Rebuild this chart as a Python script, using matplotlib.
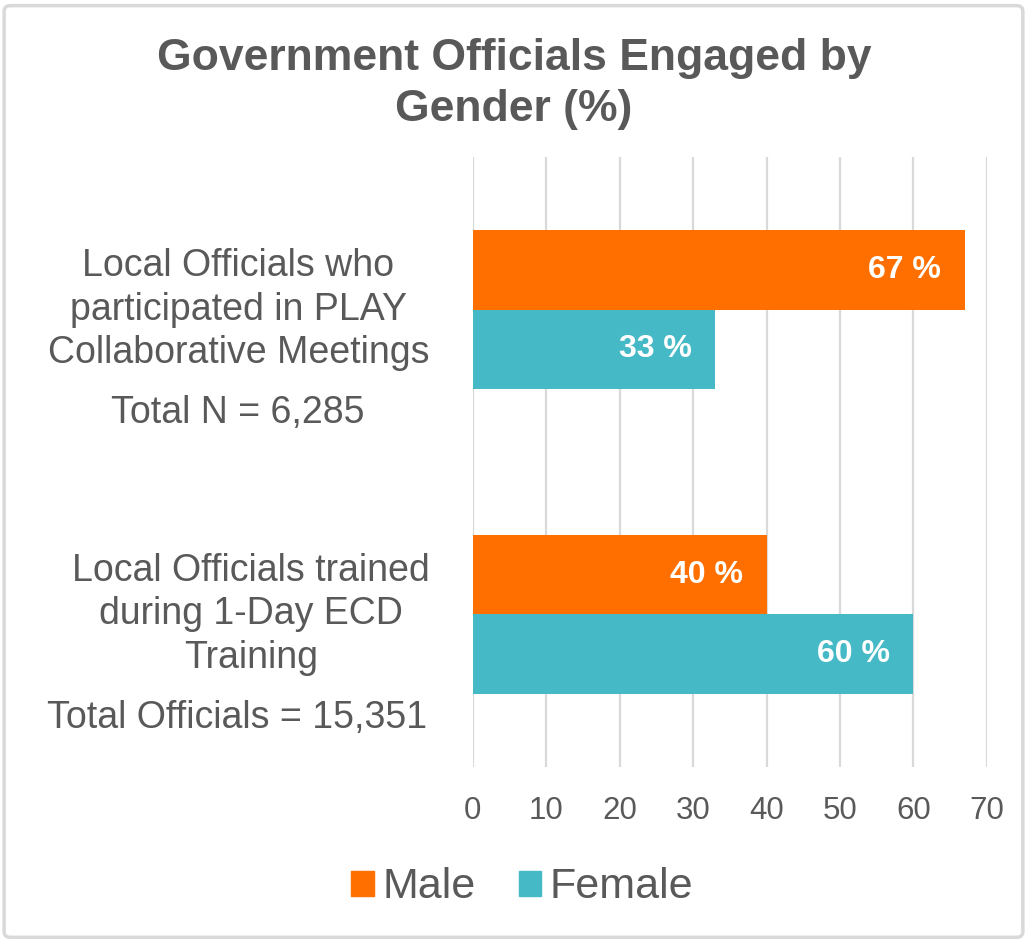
import numpy as np
import matplotlib
matplotlib.use("Agg")
import matplotlib.pyplot as plt
from matplotlib.patches import Patch, FancyBboxPatch
from matplotlib.transforms import blended_transform_factory

plt.rcParams['font.family'] = ['Liberation Sans', 'DejaVu Sans']

# data
categories = ["Local Officials who\nparticipated in PLAY\nCollaborative Meetings",
              "Local Officials trained\nduring 1-Day ECD\nTraining"]
totals = ["Total N = 6,285", "Total Officials = 15,351"]
male = [67, 40]
female = [33, 60]
series_names = ["Male", "Female"]
title = "Government Officials Engaged by\nGender (%)"

ORANGE = "#FF6F00"
TEAL = "#45B9C5"
GREY = "#595959"

fig = plt.figure(figsize=(10.28, 9.42), dpi=100)
ax = fig.add_axes([0.460, 0.1858, 0.500, 0.6475])

y = np.arange(len(categories))
h = 0.262
bars_m = ax.barh(y - h / 2, male, height=h, color=ORANGE, zorder=3)
bars_f = ax.barh(y + h / 2, female, height=h, color=TEAL, zorder=3)

for bars, vals in [(bars_m, male), (bars_f, female)]:
    for b, v in zip(bars, vals):
        ax.annotate(f"{v} %", xy=(b.get_width(), b.get_y() + b.get_height() / 2),
                    xytext=(-17, 0), textcoords="offset points",
                    ha="right", va="center", color="white",
                    fontsize=23, fontweight="bold", zorder=4)

ax.set_xlim(0, 70)
ax.set_ylim(1.5, -0.5)
ax.set_xticks(np.arange(0, 71, 10))
ax.set_yticks([])
ax.xaxis.grid(True, color="#D9D9D9", linewidth=1.6, zorder=0)
ax.tick_params(axis="x", length=0, pad=21, labelsize=22.5, labelcolor=GREY)
for s in ax.spines.values():
    s.set_visible(False)

# category labels (centered on each group) and totals below
tr = blended_transform_factory(fig.transFigure, ax.transData)
label_x = [0.232, 0.244]
for i, (lab, tot) in enumerate(zip(categories, totals)):
    ax.text(label_x[i], y[i], lab, transform=tr, ha="center", va="center",
            fontsize=27, color=GREY, linespacing=1.27, multialignment="center")
    ax.text(0.231, y[i] + 0.34, tot, transform=tr, ha="center", va="center",
            fontsize=27, color=GREY)

fig.text(0.5, 0.911, title, ha="center", va="center", fontsize=32,
         fontweight="bold", color=GREY, linespacing=1.33)

handles = [Patch(color=ORANGE, label=series_names[0]),
           Patch(color=TEAL, label=series_names[1])]
leg = fig.legend(handles=handles, loc="center", bbox_to_anchor=(0.508, 0.058),
                 ncol=2, frameon=False, fontsize=31, handlelength=0.52,
                 handleheight=0.52, handletextpad=0.2, columnspacing=1.0,
                 labelcolor=GREY)

fig.patches.append(FancyBboxPatch((0.004, 0.005), 0.991, 0.989,
                                  boxstyle="round,pad=0,rounding_size=0.006",
                                  transform=fig.transFigure, fill=False,
                                  edgecolor="#D9D9D9", linewidth=2.5))

fig.savefig("out.png", dpi=100, facecolor="white")
